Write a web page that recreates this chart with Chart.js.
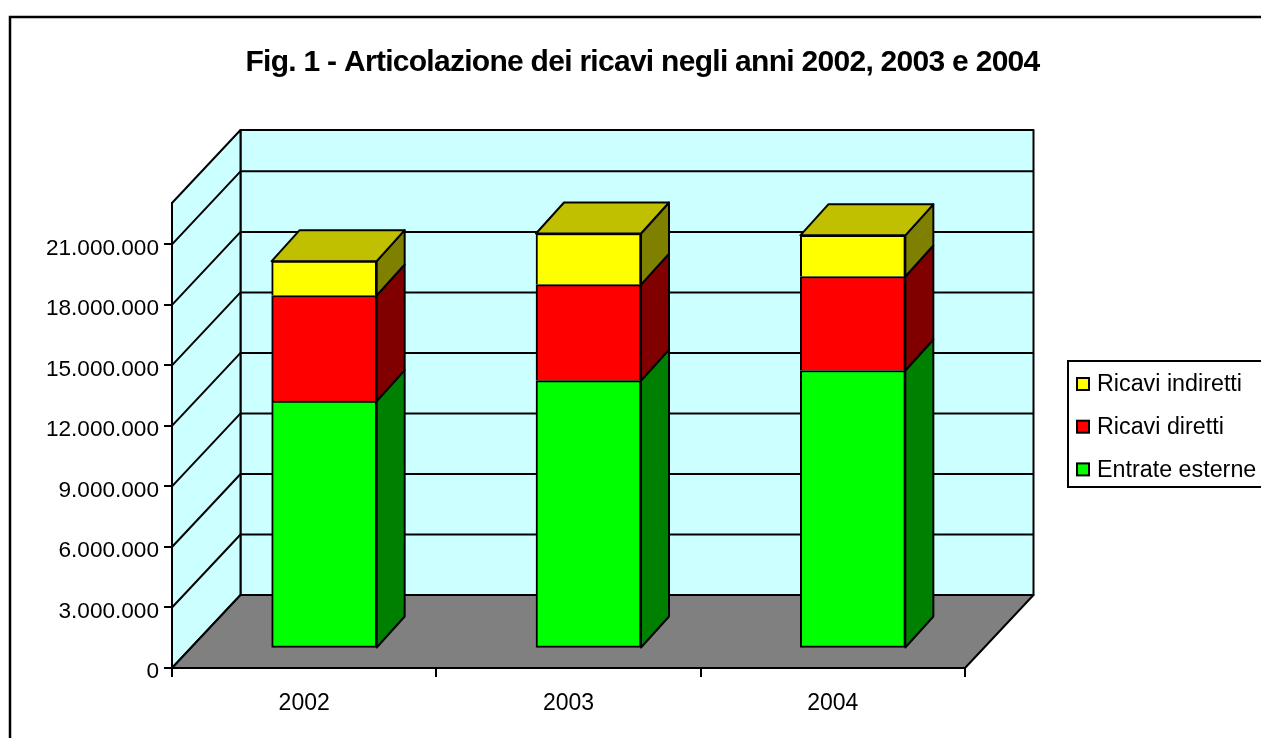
<!DOCTYPE html>
<html>
<head>
<meta charset="utf-8">
<title>Articolazione dei ricavi</title>
<script src="https://cdn.jsdelivr.net/npm/chart.js@4"></script>
<style>
  html, body { margin: 0; padding: 0; background: #fff; overflow: hidden; }
  canvas { display: block; }
</style>
</head>
<body>
<canvas id="chart" width="1261" height="738"></canvas>
<script>
const titleText = 'Fig. 1 - Articolazione dei ricavi negli anni 2002, 2003 e 2004';
const years = ['2002', '2003', '2004'];
const entrateEsterne = [12260000, 13280000, 13780000];
const ricaviDiretti = [5240000, 4760000, 4660000];
const ricaviIndiretti = [1700000, 2530000, 2040000];
const yTicks = [0, 3000000, 6000000, 9000000, 12000000, 15000000, 18000000, 21000000];

const FONT = '"Liberation Sans", Arial, sans-serif';
const LINE = '#000';

// depth of the box the chart sits in, and of the bars
const WALL_DX = 68.5, WALL_DY = 73;
const BAR_SHIFT_X = 20, BAR_SHIFT_Y = 19.5;
const BAR_DX = 28, BAR_DY = 31;

function poly(ctx, pts, fill) {
  ctx.beginPath();
  pts.forEach((p, i) => i ? ctx.lineTo(p[0], p[1]) : ctx.moveTo(p[0], p[1]));
  ctx.closePath();
  if (fill) {
    ctx.fillStyle = fill;
    ctx.fill();
  }
  ctx.lineWidth = 2;
  ctx.strokeStyle = LINE;
  ctx.lineJoin = 'round';
  ctx.stroke();
}

const box3d = {
  id: 'box3d',
  beforeDraw(chart) {
    const ctx = chart.ctx;
    const { left, right, top, bottom } = chart.chartArea;
    const y = chart.scales.y;
    const backL = left + WALL_DX, backR = right + WALL_DX;
    ctx.save();
    // outer frame, cut by the window on the right and at the bottom
    ctx.beginPath();
    ctx.moveTo(10, 738);
    ctx.lineTo(10, 17);
    ctx.lineTo(1261, 17);
    ctx.lineWidth = 2.5;
    ctx.strokeStyle = LINE;
    ctx.stroke();

    poly(ctx, [[backL, top - WALL_DY], [backR, top - WALL_DY], [backR, bottom - WALL_DY], [backL, bottom - WALL_DY]], '#CCFFFF');
    poly(ctx, [[left, top], [backL, top - WALL_DY], [backL, bottom - WALL_DY], [left, bottom]], '#CCFFFF');
    poly(ctx, [[left, bottom], [right, bottom], [backR, bottom - WALL_DY], [backL, bottom - WALL_DY]], '#808080');

    y.ticks.forEach(t => {
      if (t.value === 0) return;
      const py = y.getPixelForValue(t.value);
      ctx.beginPath();
      ctx.moveTo(left, py);
      ctx.lineTo(backL, py - WALL_DY);
      ctx.lineTo(backR, py - WALL_DY);
      ctx.lineWidth = 2;
      ctx.strokeStyle = LINE;
      ctx.stroke();
    });
    ctx.restore();
  },
  beforeDatasetsDraw(chart) {
    const ctx = chart.ctx;
    ctx.save();
    ctx.translate(BAR_SHIFT_X, -BAR_SHIFT_Y);
    chart.data.datasets.forEach((ds, i) => {
      const isTop = i === chart.data.datasets.length - 1;
      chart.getDatasetMeta(i).data.forEach(bar => {
        const { x, y, base, width } = bar.getProps(['x', 'y', 'base', 'width'], true);
        const r = x + width / 2, l = x - width / 2;
        poly(ctx, [[r, y], [r + BAR_DX, y - BAR_DY], [r + BAR_DX, base - BAR_DY], [r, base]], ds.sideColor);
        if (isTop) {
          poly(ctx, [[l, y], [l + BAR_DX, y - BAR_DY], [r + BAR_DX, y - BAR_DY], [r, y]], ds.capColor);
        }
      });
    });
  },
  afterDatasetsDraw(chart) {
    chart.ctx.restore();
  },
  afterDraw(chart) {
    const ctx = chart.ctx;
    ctx.save();
    ctx.fillStyle = '#000';
    ctx.textBaseline = 'middle';
    ctx.textAlign = 'center';
    ctx.font = 'bold 30px ' + FONT;
    ctx.letterSpacing = '-0.72px';
    ctx.fillText(titleText, 642.5, 63);
    ctx.letterSpacing = '0px';

    // legend box runs off the right edge of the window
    ctx.beginPath();
    ctx.moveTo(1261, 361);
    ctx.lineTo(1068, 361);
    ctx.lineTo(1068, 487);
    ctx.lineTo(1261, 487);
    ctx.lineWidth = 2;
    ctx.strokeStyle = LINE;
    ctx.stroke();

    ctx.textAlign = 'left';
    ctx.font = '23.3px ' + FONT;
    const rows = chart.data.datasets.slice().reverse();
    rows.forEach((ds, i) => {
      const cy = 384 + i * 42.7;
      ctx.fillStyle = ds.backgroundColor;
      ctx.fillRect(1077, cy - 6, 12, 12);
      ctx.lineWidth = 2;
      ctx.strokeRect(1077, cy - 6, 12, 12);
      ctx.fillStyle = '#000';
      ctx.fillText(ds.label, 1097, cy + 1);
    });
    ctx.restore();
  }
};

Chart.defaults.font.family = FONT;
Chart.defaults.font.size = 23;
Chart.defaults.color = '#000';

// adjoining segments share one line, so only the lowest keeps its bottom edge
const stackedEdge = { top: 2, left: 2, right: 2, bottom: 0 };

new Chart(document.getElementById('chart'), {
  type: 'bar',
  data: {
    labels: years,
    datasets: [
      { label: 'Entrate esterne', data: entrateEsterne, backgroundColor: '#00FF00', sideColor: '#008000', capColor: '#00C000', borderWidth: 2 },
      { label: 'Ricavi diretti', data: ricaviDiretti, backgroundColor: '#FF0000', sideColor: '#800000', capColor: '#C00000', borderWidth: stackedEdge },
      { label: 'Ricavi indiretti', data: ricaviIndiretti, backgroundColor: '#FFFF00', sideColor: '#808000', capColor: '#C0C000', borderWidth: stackedEdge }
    ]
  },
  plugins: [box3d],
  options: {
    responsive: false,
    animation: false,
    layout: { padding: { left: 0, top: 203, right: 296, bottom: 10 } },
    datasets: {
      bar: {
        barThickness: 105,
        borderColor: LINE,
        borderSkipped: false,
        clip: false
      }
    },
    plugins: {
      legend: { display: false },
      title: { display: false },
      tooltip: { enabled: false }
    },
    scales: {
      x: {
        stacked: true,
        afterFit: scale => { scale.height = 60; },
        border: { color: LINE, width: 2 },
        grid: { offset: true, drawOnChartArea: false, color: LINE, tickLength: 9, lineWidth: 2 },
        ticks: { padding: 13, maxRotation: 0 }
      },
      y: {
        stacked: true,
        min: 0,
        max: 23050000,
        afterFit: scale => { scale.width = 172; },
        afterBuildTicks: scale => { scale.ticks = yTicks.map(value => ({ value })); },
        border: { color: LINE, width: 2 },
        grid: { drawOnChartArea: false, color: LINE, tickLength: 8, lineWidth: 2 },
        ticks: {
          padding: 5,
          labelOffset: 4,
          font: { size: 22.6 },
          callback: v => v.toLocaleString('it-IT')
        }
      }
    }
  }
});
</script>
</body>
</html>
